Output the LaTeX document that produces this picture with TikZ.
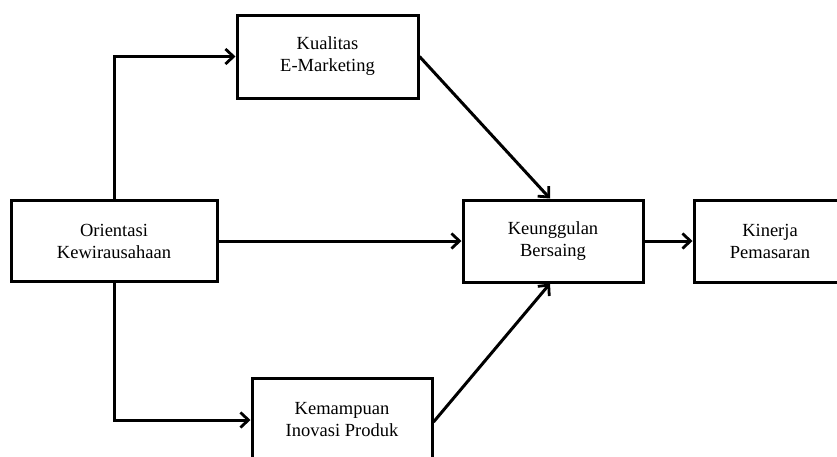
\documentclass[tikz,border=0pt]{standalone}
\usepackage{fontspec}
\setmainfont{Liberation Serif}
\usetikzlibrary{arrows.meta}
\begin{document}
\begin{tikzpicture}[x=1pt,y=-1pt,
  box/.style={draw=black,line width=3pt,fill=white,align=center,inner sep=0pt,
    font=\fontsize{18.5}{22}\selectfont},
  conn/.style={line width=3pt,-{Straight Barb[length=8pt,width=15pt,line width=2.8pt]}}]
\useasboundingbox (0,0) rectangle (837,456);
\clip (0,0) rectangle (837,456);
\node[box,minimum width=206pt,minimum height=81pt] (or) at (114,241) {Orientasi\\Kewirausahaan};
\node[box,minimum width=181pt,minimum height=83pt] (kq) at (327.5,56.5) {Kualitas\\E-Marketing};
\node[box,minimum width=180pt,minimum height=82pt] (kb) at (553,241) {Keunggulan\\Bersaing};
\node[box,minimum width=152pt,minimum height=82pt] (kp) at (770,241) {Kinerja\\Pemasaran};
\node[box,minimum width=180pt,minimum height=84pt] (ki) at (342,420) {Kemampuan\\Inovasi Produk};
\draw[conn] (or.north) -- (or.north |- kq.west) -- (kq.west);
\draw[conn] (or.south) -- (or.south |- ki.west) -- (ki.west);
\draw[conn] (or.east) -- (kb.west);
\draw[conn] (kq.east) -- ([xshift=-3pt]kb.north);
\draw[conn] ([yshift=-2pt]ki.east) -- ([xshift=-3pt]kb.south);
\draw[conn] (kb.east) -- (kp.west);
\end{tikzpicture}
\end{document}
